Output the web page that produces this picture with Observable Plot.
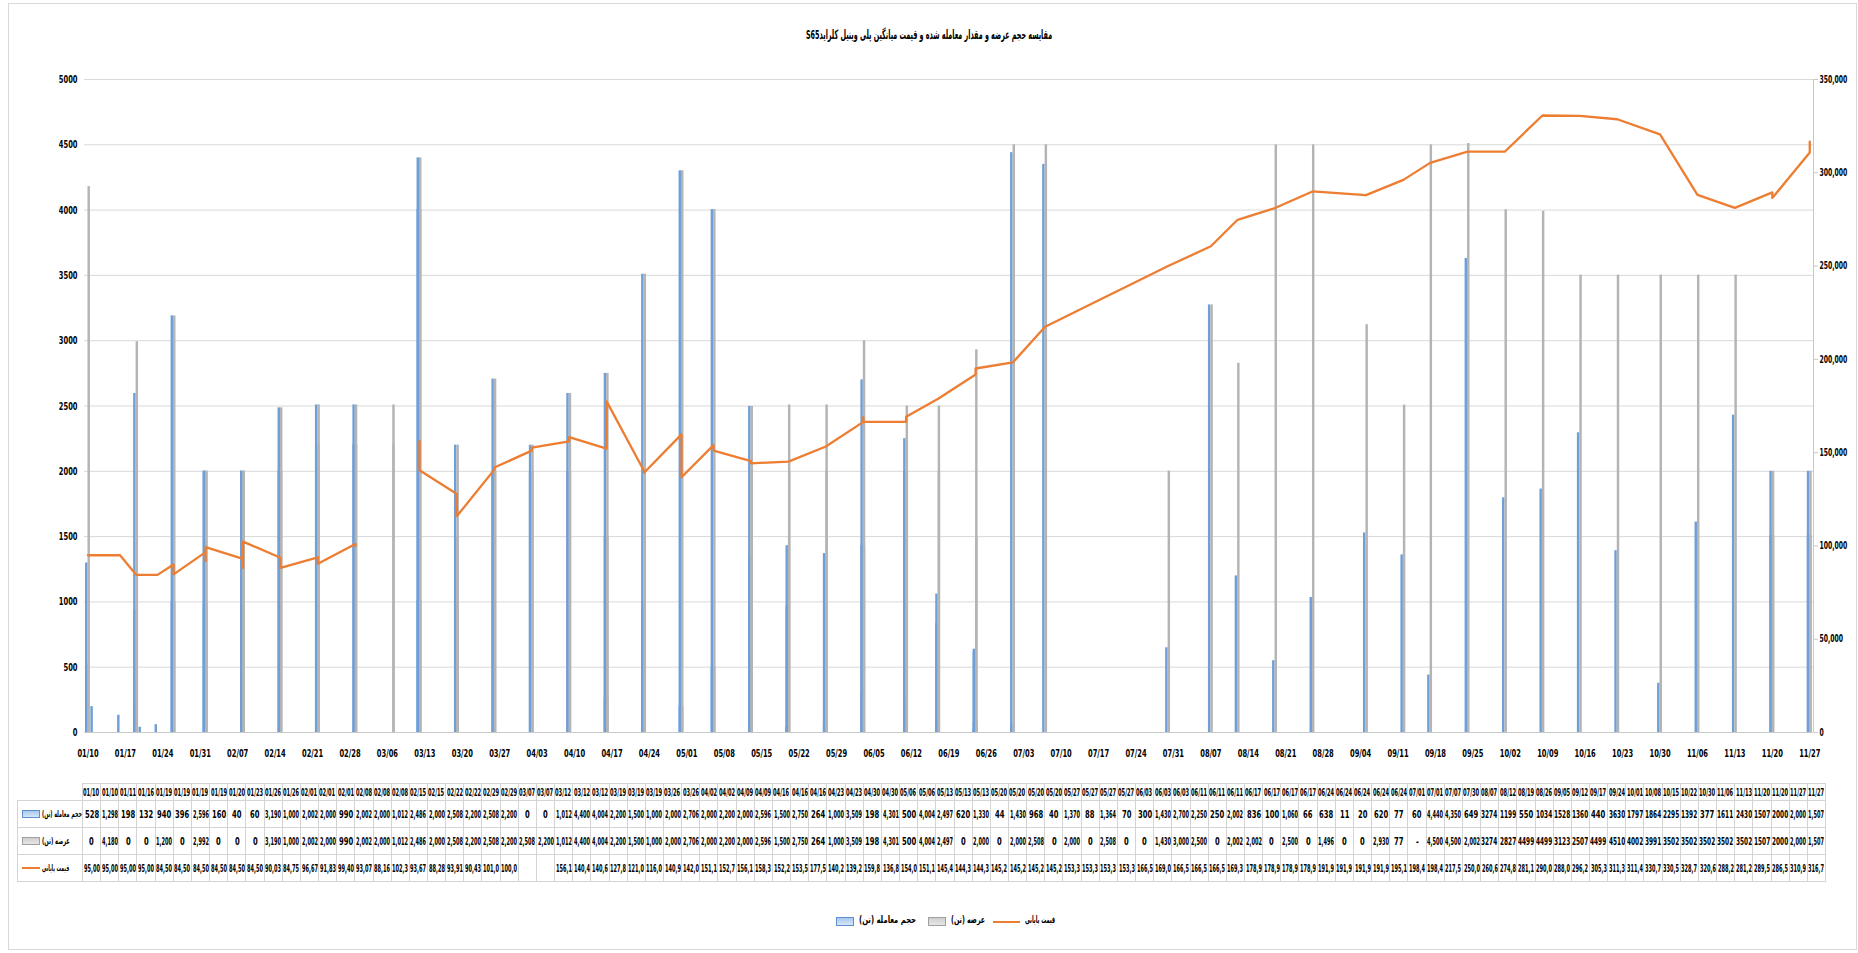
<!DOCTYPE html>
<html>
<head>
<meta charset="utf-8">
<script src="https://cdn.jsdelivr.net/npm/d3@7"></script>
<script src="https://cdn.jsdelivr.net/npm/@observablehq/plot@0.6"></script>
<style>
  html, body { margin:0; padding:0; background:#fff; }
  #root { position:relative; width:1858px; height:953px; overflow:hidden; background:#fff; }
  #frame { position:absolute; left:8px; top:3px; width:1849px; height:947px; border:1px solid #d9d9d9; box-sizing:border-box; }
  #chart { position:absolute; left:0; top:0; }
  .fa { font-family:"DejaVu Sans", sans-serif; font-weight:bold; direction:rtl; unicode-bidi:plaintext; }
  .fit { display:inline-block; white-space:nowrap; transform-origin:0 50%; }
  #title { position:absolute; top:27px; left:0; width:1858px; text-align:center; font-size:13px; color:#000; }
  #table { position:absolute; left:17px; top:783px; width:1809px; display:grid;
           grid-template-columns: 66px repeat(96, 1fr); grid-template-rows: 18px 27px 27px 27px; }
  .c { box-sizing:border-box; border-right:1px solid #d4d4d4; border-bottom:1px solid #d4d4d4;
       display:flex; align-items:center; justify-content:center; overflow:hidden;
       font-family:"Liberation Sans Narrow","DejaVu Sans Condensed","Arial Narrow",sans-serif;
       font-weight:bold; font-size:10.5px; color:#000; }
  .c.top { border-top:1px solid #d4d4d4; }
  .c.hd { font-size:10px; }
  .c.corner { border-right:1px solid #d4d4d4; }
  .c.leg { border-left:1px solid #d4d4d4; justify-content:flex-start; padding-left:4px; gap:2px; }
  .key { flex:none; box-sizing:border-box; }
  .c.leg .fa { font-size:9px; }
  #legend { position:absolute; top:913px; left:0; width:1858px; height:16px; }
  #legend > * { position:absolute; }
  #legend .fa { font-size:10px; top:1px; }
</style>
</head>
<body>
<div id="root">
  <div id="frame"></div>
  <div id="chart"></div>
  <div id="title" class="fa"><span class="fit" data-max="246">مقایسه حجم عرضه و مقدار معامله شده و قیمت میانگین  پلی وینیل کلرایدS65</span></div>
  <div id="table"></div>
  <div id="legend"></div>
</div>
<script>
// ---------------- data ----------------
const dates = ["01/10","01/10","01/11","01/16","01/19","01/19","01/19","01/19","01/20","01/23","01/26","01/26",
  "02/01","02/01","02/01","02/08","02/08","02/08","02/15","02/15","02/22","02/22","02/29","02/29",
  "03/07","03/07","03/12","03/12","03/12","03/19","03/19","03/19","03/26","03/26","04/02","04/02",
  "04/09","04/09","04/16","04/16","04/16","04/23","04/23","04/30","04/30","05/06","05/06","05/13",
  "05/13","05/13","05/20","05/20","05/20","05/20","05/27","05/27","05/27","05/27","06/03","06/03",
  "06/03","06/11","06/11","06/11","06/17","06/17","06/17","06/17","06/24","06/24","06/24","06/24",
  "06/24","07/01","07/01","07/07","07/30","08/07","08/12","08/19","08/26","09/05","09/12","09/17",
  "09/24","10/01","10/08","10/15","10/22","10/30","11/06","11/13","11/20","11/20","11/27","11/27"];

const volume = [528,1298,198,132,940,396,2596,160,40,60,3190,1000,
  2002,2000,990,2002,2000,1012,2486,2000,2508,2200,2508,2200,
  0,0,1012,4400,4004,2200,1500,1000,2000,2706,2000,2200,
  2000,2596,1500,2750,264,1000,3509,198,4301,500,4004,2497,
  620,1330,44,1430,968,40,1370,88,1364,70,300,1430,
  2700,2250,250,2002,836,100,1060,66,638,11,20,620,
  77,60,4440,4350,649,3274,1199,550,1034,1528,1360,440,
  3630,1797,1864,2295,1392,377,1611,2430,1507,2000,2000,1507];

const supply = [0,4180,0,0,1200,0,2992,0,0,0,3190,1000,
  2002,2000,990,2002,2000,1012,2486,2000,2508,2200,2508,2200,
  2508,2200,1012,4400,4004,2200,1500,1000,2000,2706,2000,2200,
  2000,2596,1500,2750,264,1000,3509,198,4301,500,4004,2497,
  0,2000,0,2000,2508,0,2000,0,2508,0,0,1430,
  3000,2500,0,2002,2002,0,2500,0,1496,0,0,2930,
  77,null,4500,4500,2002,3274,2827,4499,4499,3123,2507,4499,
  4510,4002,3991,3502,3502,3502,3502,3502,1507,2000,2000,1507];

const price = [95000,95000,95000,95000,84500,84500,84500,84500,84500,84500,90030,84750,
  96670,91830,99400,93070,88160,102300,93670,88280,93910,90430,101000,100000,
  null,null,156100,140400,140600,127800,121000,116000,140900,142000,151100,152700,
  156100,158300,152200,153500,177500,140200,139200,159800,136800,154000,151100,145400,
  144300,144300,145200,145200,145200,145200,153300,153300,153300,153300,166500,169000,
  166500,166500,166500,169300,178900,178900,178900,178900,191900,191900,191900,191900,
  195100,198400,198400,217500,250000,260600,274800,281100,290000,288000,296200,305300,
  311300,311400,330700,330500,328700,320600,288200,281200,289500,286500,310900,316700];

const xTickLabels = ["01/10","01/17","01/24","01/31","02/07","02/14","02/21","02/28","03/06","03/13","03/20","03/27",
  "04/03","04/10","04/17","04/24","05/01","05/08","05/15","05/22","05/29","06/05","06/12","06/19","06/26",
  "07/03","07/10","07/17","07/24","07/31","08/07","08/14","08/21","08/28","09/04","09/11","09/18","09/25",
  "10/02","10/09","10/16","10/23","10/30","11/06","11/13","11/20","11/27"];
const leftTicks = [0,500,1000,1500,2000,2500,3000,3500,4000,4500,5000];
const rightTicks = [0,50000,100000,150000,200000,250000,300000,350000];

const seriesNames = ["حجم معامله (تن)", "عرضه (تن)", "قیمت پایانی"];
const colors = {blue:"#6f9fd8", blueKey:"#a9c8ec", blueEdge:"#5b8fd0", gray:"#b4b4b4", grayKey:"#cfcfcf", grayEdge:"#a0a0a0", orange:"#ED7D31"};

// ---------------- derived ----------------
const YEAR = 2024;
const parse = s => { const [m, d] = s.split("/").map(Number); return new Date(Date.UTC(YEAR, m - 1, d)); };
const H = 3600e3;
const rows = dates.map((s, i) => ({date: parse(s), v: volume[i], s: supply[i], p: price[i]}));
const ratio = rightTicks[rightTicks.length - 1] / leftTicks[leftTicks.length - 1];
const xStart = new Date(+parse(dates[0]) - 15.6 * H);
const xEnd = new Date(+parse(dates[dates.length - 1]) + 16.8 * H);

const font = "'Liberation Sans Narrow','DejaVu Sans Condensed','Arial Narrow',sans-serif";

const chart = Plot.plot({
  width: 1858, height: 772,
  marginLeft: 84, marginRight: 45, marginTop: 79, marginBottom: 40,
  x: {type: "utc", domain: [xStart, xEnd]},
  y: {domain: [0, 5000]},
  style: {fontFamily: font, fontSize: "11px", fontWeight: "bold", color: "#000", background: "transparent", overflow: "visible"},
  marks: [
    Plot.gridY(leftTicks.filter(t => t > 0), {stroke: "#d9d9d9", strokeOpacity: 1}),
    Plot.ruleY([0], {stroke: "#c8c8c8"}),
    Plot.rect(rows.filter(d => d.v > 0), {x1: d => new Date(+d.date - 11 * H), x2: d => d.date, y1: 0, y2: "v", fill: colors.blue}),
    Plot.rect(rows.filter(d => d.s > 0), {x1: d => d.date, x2: d => new Date(+d.date + 11 * H), y1: 0, y2: "s", fill: colors.gray}),
    Plot.line(rows, {x: "date", y: d => d.p == null ? NaN : d.p / ratio, stroke: colors.orange, strokeWidth: 2.3, strokeLinejoin: "round"}),
    Plot.ruleX([xEnd], {y1: 0, y2: 5000, stroke: "#c8c8c8"}),
    Plot.axisY(leftTicks, {anchor: "left", tickSize: 0, tickPadding: 7, label: null, tickFormat: d => String(d)}),
    Plot.axisY(rightTicks.map(v => v / ratio), {anchor: "right", tickSize: 4, tickPadding: 2, label: null, stroke: "#c8c8c8",
      fontSize: 10, tickFormat: d => d3.format(",")(Math.round(d * ratio))}),
    Plot.axisX(xTickLabels.map(parse), {anchor: "bottom", tickSize: 0, tickPadding: 17, label: null, tickFormat: d3.utcFormat("%m/%d")})
  ]
});
document.getElementById("chart").appendChild(chart);

// condense tick labels around their anchor (the reference uses a narrow bold face)
chart.querySelectorAll("g[aria-label$='tick label'] text").forEach(t => {
  const tr = t.getAttribute("transform");
  if (tr) {
    t.setAttribute("transform", tr + " scale(0.68,1)");
  } else {
    t.setAttribute("textLength", (t.getComputedTextLength() * 0.68).toFixed(1));
    t.setAttribute("lengthAdjust", "spacingAndGlyphs");
  }
});

// ---------------- data table ----------------
const table = document.getElementById("table");
const plainIdx = i => i >= 77 && i <= 93;
const fmtQty = (v, i) => v == null ? "-" : (plainIdx(i) ? String(v) : d3.format(",")(v));
const fmtPrice = p => p == null ? "" : d3.format(",")(p).slice(0, 5);
function cell(cls, html) {
  const el = document.createElement("div");
  el.className = "c " + cls;
  el.innerHTML = html;
  table.appendChild(el);
  return el;
}
cell("corner", "");
dates.forEach(d => cell("top hd", `<span class="fit" data-max="16" data-base="0.72">${d}</span>`));
const keyHtml = [
  `<span class="key" style="width:18px;height:8px;background:linear-gradient(${colors.blueKey},#d6e6f7);border:1px solid ${colors.blueEdge}"></span>`,
  `<span class="key" style="width:18px;height:8px;background:linear-gradient(${colors.grayKey},#e6e6e6);border:1px solid ${colors.grayEdge}"></span>`,
  `<span class="key" style="width:18px;height:2.5px;background:${colors.orange}"></span>`
];
const rowVals = [volume.map(fmtQty), supply.map(fmtQty), price.map(fmtPrice)];
rowVals.forEach((vals, r) => {
  cell("leg", keyHtml[r] + `<span class="fa fit" data-max="${r === 0 ? 40 : r === 1 ? 28 : 27}">${seriesNames[r]}</span>`);
  vals.forEach(t => cell("", `<span class="fit" data-max="16" data-base="0.72">${t}</span>`));
});

// ---------------- legend ----------------
const legend = document.getElementById("legend");
legend.innerHTML = `
  <span class="key" style="left:836px;top:4px;width:18px;height:9px;background:linear-gradient(${colors.blueKey},#d6e6f7);border:1px solid ${colors.blueEdge}"></span>
  <span class="fa" style="left:859px;"><span class="fit" data-max="57">${seriesNames[0]}</span></span>
  <span class="key" style="left:928px;top:4px;width:18px;height:9px;background:linear-gradient(${colors.grayKey},#e6e6e6);border:1px solid ${colors.grayEdge}"></span>
  <span class="fa" style="left:951px;"><span class="fit" data-max="34">${seriesNames[1]}</span></span>
  <span class="key" style="left:993px;top:7.5px;width:27px;height:2.5px;background:${colors.orange}"></span>
  <span class="fa" style="left:1025px;"><span class="fit" data-max="30">${seriesNames[2]}</span></span>`;

// ---------------- fit condensed text ----------------
function fitAll() {
  document.querySelectorAll(".fit").forEach(el => {
    el.style.transform = "";
    el.style.marginRight = "";
    const max = +el.dataset.max;
    const base = el.dataset.base ? +el.dataset.base : 1;
    const w = el.offsetWidth;
    const k = Math.min(base, max / w);
    if (k < 1) {
      el.style.transform = `scaleX(${k})`;
      el.style.marginRight = `${w * k - w}px`;
    }
  });
}
fitAll();
if (document.fonts && document.fonts.ready) document.fonts.ready.then(fitAll);
</script>
</body>
</html>
